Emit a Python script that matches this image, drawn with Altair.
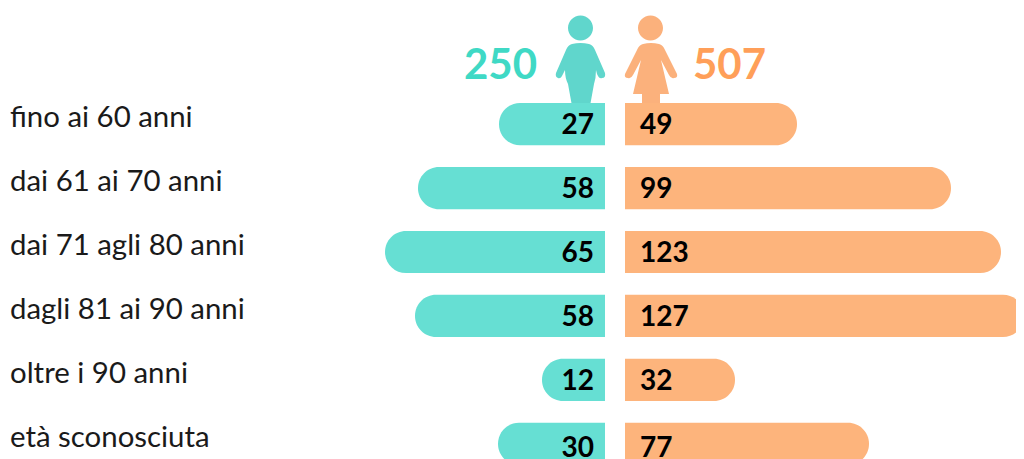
import altair as alt
import pandas as pd

rows = ["fino ai 60 anni", "dai 61 ai 70 anni", "dai 71 agli 80 anni",
        "dagli 81 ai 90 anni", "oltre i 90 anni", "età sconosciuta"]
men_labels = [27, 58, 65, 58, 12, 30]
women_labels = [49, 99, 123, 127, 32, 77]
# bar extents as drawn in the picture (the original bars are not to scale)
men_extent = [116, 197, 230, 200, 73, 117]
women_extent = [182, 336, 386, 409, 120, 254]
totals = [250, 507]
header = "header"

MAN = ("M-13,-32a12.5,12.5 0 1,0 25,0a12.5,12.5 0 1,0 -25,0Z"
       "M-9,-16Q-0.5,-18 8,-16Q12,-15 14,-10L24,13Q25,18 21,18Q18,19 16,14L15,10"
       "Q15,18 13,24L9,46L-9,46L-13,24Q-16,18 -16,10L-18,14Q-20,19 -23,18Q-26,17 -25,13L-15,-10Q-13,-15 -9,-16Z")
WOMAN = ("M-13,-32a12.5,12.5 0 1,0 25,0a12.5,12.5 0 1,0 -25,0Z"
         "M-8,-16Q0,-18 8,-16Q12,-15 14,-10L26,14Q27,18 23,18Q20,19 18,15L10,0L18,34L9,34L9,46L-9,46L-9,34L-18,34"
         "L-10,0L-18,15Q-20,19 -23,18Q-27,18 -26,14L-14,-10Q-12,-15 -8,-16Z")

x_scale = alt.Scale(domain=[-607, 401], range=[0, 1008], nice=False, zero=False)
y_scale = alt.Scale(domain=[header] + rows, range=[31, 457], paddingInner=0.34, paddingOuter=0, round=False)
X = lambda f: alt.X(f, type="quantitative", scale=x_scale, axis=None)
Y = alt.Y("row:N", scale=y_scale, axis=None, sort=None)

left_gap = pd.DataFrame({"row": rows, "men_x": [-v for v in men_extent], "inner": [-10] * 6})
right_gap = pd.DataFrame({"row": rows, "women_x": women_extent, "inner": [10] * 6})

men_bars = alt.Chart(left_gap).mark_bar(
    color="#66DFD3", cornerRadiusTopLeft=21, cornerRadiusBottomLeft=21
).encode(x=X("men_x"), x2="inner", y=Y)
women_bars = alt.Chart(right_gap).mark_bar(
    color="#FDB47C", cornerRadiusTopRight=21, cornerRadiusBottomRight=21
).encode(x=X("inner"), x2="women_x", y=Y)

font = "Lato"
row_text = alt.Chart(pd.DataFrame({"row": rows, "x": [-605] * 6})).mark_text(
    align="left", baseline="middle", font=font, fontSize=29.4, color="#1a1a1a", dy=-6
).encode(x=X("x"), y=Y, text="row:N")


def value_text(names, values, x, align, dy):
    return alt.Chart(pd.DataFrame({"row": names, "v": values, "x": [x] * len(names)})).mark_text(
        align=align, baseline="middle", font=font, fontSize=28, fontWeight="bold", color="black", dy=dy
    ).encode(x=X("x"), y=Y, text="v:Q")


men_text = value_text(rows[:5], men_labels[:5], -21, "right", 2)
women_text = value_text(rows[:5], women_labels[:5], 25, "left", 2)
men_last = value_text(rows[5:], men_labels[5:], -21, "right", 5)
women_last = value_text(rows[5:], women_labels[5:], 25, "left", 5)

total_men = alt.Chart(pd.DataFrame({"row": [header], "v": [totals[0]], "x": [-78]})).mark_text(
    align="right", baseline="middle", font=font, fontSize=42, fontWeight="bold", color="#3FD9C5", dy=6
).encode(x=X("x"), y=Y, text="v:Q")
total_women = alt.Chart(pd.DataFrame({"row": [header], "v": [totals[1]], "x": [78]})).mark_text(
    align="left", baseline="middle", font=font, fontSize=42, fontWeight="bold", color="#FF9F59", dy=6
).encode(x=X("x"), y=Y, text="v:Q")

man = alt.Chart(pd.DataFrame({"row": [header], "x": [-34]})).mark_point(
    shape=MAN, size=4, filled=True, color="#60D6CC", opacity=1, strokeWidth=0
).encode(x=X("x"), y=Y)
woman = alt.Chart(pd.DataFrame({"row": [header], "x": [36]})).mark_point(
    shape=WOMAN, size=4, filled=True, color="#FBB17C", opacity=1, strokeWidth=0
).encode(x=X("x"), y=Y)

chart = alt.layer(
    man, woman, men_bars, women_bars, row_text, men_text, women_text,
    men_last, women_last, total_men, total_women
).properties(
    width=1008, height=451, padding=0,
    autosize=alt.AutoSizeParams(type="none"),
).configure_view(stroke=None)

chart.save("out.html", embed_options={"renderer": "svg", "actions": False})
